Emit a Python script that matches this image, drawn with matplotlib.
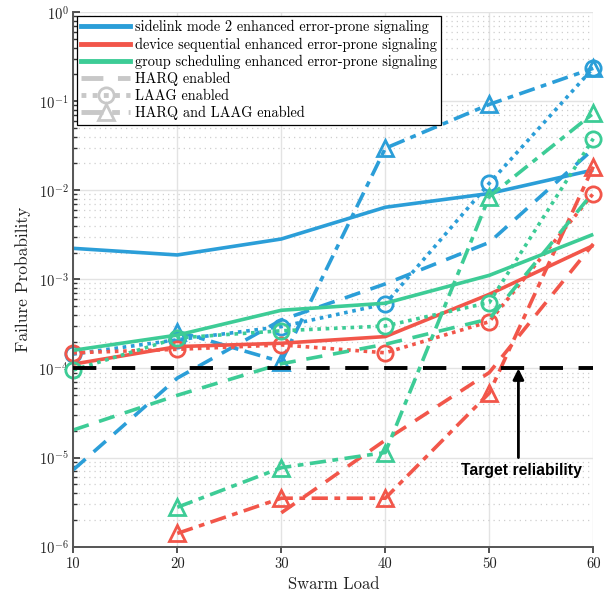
import numpy as np
import matplotlib
matplotlib.use("Agg")
import matplotlib.pyplot as plt
from matplotlib.lines import Line2D
from matplotlib.ticker import FixedLocator, LogLocator, NullFormatter

plt.rcParams['mathtext.fontset'] = 'cm'
plt.rcParams['axes.formatter.use_mathtext'] = True

nan = np.nan
swarm_load = [10, 20, 30, 40, 50, 60]

# sidelink mode 2 enhanced error-prone signaling
sl_base = [2.23e-3, 1.88e-3, 2.84e-3, 6.45e-3, 9.2e-3, 1.69e-2]
sl_harq = [7.3e-6, 7.8e-5, 3.5e-4, 8.9e-4, 2.6e-3, 2.9e-2]
sl_laag = [1.45e-4, 2.1e-4, 2.95e-4, 5.3e-4, 1.2e-2, 0.236]
sl_both = [nan, 2.6e-4, 1.19e-4, 2.96e-2, 9.2e-2, 0.234]

# device sequential enhanced error-prone signaling
ds_base = [1.12e-4, 1.76e-4, 1.92e-4, 2.28e-4, 6.8e-4, 2.4e-3]
ds_harq = [nan, nan, 2.4e-6, 1.57e-5, 9.0e-5, 2.5e-3]
ds_laag = [1.5e-4, 1.64e-4, 1.84e-4, 1.5e-4, 3.35e-4, 9.2e-3]
ds_both = [nan, 1.41e-6, 3.5e-6, 3.5e-6, 5.3e-5, 1.84e-2]

# group scheduling enhanced error-prone signaling
gs_base = [1.6e-4, 2.37e-4, 4.5e-4, 5.4e-4, 1.11e-3, 3.2e-3]
gs_harq = [2.04e-5, 5.0e-5, 1.13e-4, 1.87e-4, 3.6e-4, 9.5e-3]
gs_laag = [9.6e-5, 2.2e-4, 2.65e-4, 3.0e-4, 5.5e-4, 3.8e-2]
gs_both = [nan, 2.77e-6, 7.7e-6, 1.14e-5, 8.5e-3, 7.3e-2]

target_x = [10, 60]
target_y = [1e-4, 1e-4]

series_names = ['sidelink mode 2 enhanced error-prone signaling',
                'device sequential enhanced error-prone signaling',
                'group scheduling enhanced error-prone signaling']
style_names = ['HARQ enabled', 'LAAG enabled', 'HARQ and LAAG enabled']
x_ticks = [10, 20, 30, 40, 50, 60]
y_ticks = [1e-6, 1e-5, 1e-4, 1e-3, 1e-2, 1e-1, 1e0]
y_tick_labels = [r'$10^{-6}$', r'$10^{-5}$', r'$10^{-4}$', r'$10^{-3}$',
                 r'$10^{-2}$', r'$10^{-1}$', r'$10^{0}$']

colors = ['#2B9ED8', '#F2564A', '#3DCC96']
gray = '#C8C8C8'
LW = 2.6
MS = 11
MEW = 2.0
DASH = (0, (4.5, 3))
DOT = (0, (1.0, 1.3))
DASHDOT = (0, (4.5, 1.8, 1.6, 1.8))

fig = plt.figure(figsize=(6.11, 5.95), dpi=100)
ax = fig.add_axes([0.12, 0.0812, 0.851, 0.8985])

groups = [(sl_base, sl_harq, sl_laag, sl_both),
          (ds_base, ds_harq, ds_laag, ds_both),
          (gs_base, gs_harq, gs_laag, gs_both)]

for c, (b, h, l, bo) in zip(colors, groups):
    ax.plot(swarm_load, b, color=c, lw=LW, ls='-', solid_capstyle='butt', clip_on=False)
    ax.plot(swarm_load, h, color=c, lw=LW, ls=DASH, clip_on=False)
    ax.plot(swarm_load, l, color=c, lw=LW, ls=DOT, marker='o', ms=MS,
            mfc='none', mec=c, mew=MEW, clip_on=False)
    ax.plot(swarm_load, bo, color=c, lw=LW, ls=DASHDOT, marker='^', ms=MS,
            mfc='none', mec=c, mew=MEW, clip_on=False)

ax.plot(target_x, target_y, color='black', lw=2.8, ls=(0, (6, 4)), zorder=5)

ax.annotate('', xy=(52.8, 1.0e-4), xytext=(52.8, 1.0e-5),
            arrowprops=dict(arrowstyle='-|>', color='black', lw=2.0,
                            mutation_scale=16, shrinkA=0, shrinkB=0), zorder=6)
ax.text(53.1, 7.1e-6, 'Target reliability', ha='center', va='center',
        fontsize=11.3, fontweight='bold', family='Liberation Sans', zorder=6)

ax.set_yscale('log')
ax.set_xlim(10, 60)
ax.set_ylim(1e-6, 1)
ax.xaxis.set_major_locator(FixedLocator(x_ticks))
ax.set_xticklabels([str(t) for t in x_ticks], family='cmr10', fontsize=10.5)
ax.yaxis.set_major_locator(FixedLocator(y_ticks))
ax.set_yticklabels(y_tick_labels, fontsize=10.5)
ax.yaxis.set_minor_locator(LogLocator(base=10, subs=np.arange(2, 10), numticks=20))
ax.yaxis.set_minor_formatter(NullFormatter())

ax.grid(True, which='major', color='#E3E3E3', lw=1.0, ls='-')
ax.grid(True, which='minor', axis='y', color='#CFCFCF', lw=0.9, ls=(0, (1, 3.2)))
ax.set_axisbelow(True)

for s in ['top', 'right']:
    ax.spines[s].set_visible(False)
for s in ['left', 'bottom']:
    ax.spines[s].set_color('#555555')
    ax.spines[s].set_linewidth(1.4)
ax.tick_params(axis='y', which='major', direction='in', length=5, width=1.2, color='#333333')
ax.tick_params(axis='y', which='minor', direction='in', length=3, width=1.0, color='#333333')
ax.tick_params(axis='x', which='major', direction='out', length=4, width=1.2, color='#333333')
ax.tick_params(labelcolor='#222222')

ax.set_xlabel('Swarm Load', family='cmr10', fontsize=12, color='#222222', labelpad=4)
ax.set_ylabel('Failure Probability', family='cmr10', fontsize=12.5, color='#222222', labelpad=5)

handles = [Line2D([], [], color=c, lw=3.5) for c in colors]
handles += [Line2D([], [], color=gray, lw=3.5, ls=DASH),
            Line2D([], [], color=gray, lw=3.5, ls=DOT, marker='o', ms=MS, mfc='none', mec=gray, mew=MEW),
            Line2D([], [], color=gray, lw=3.5, ls=DASHDOT, marker='^', ms=MS, mfc='none', mec=gray, mew=MEW)]
leg = ax.legend(handles, series_names + style_names, loc='upper left',
                bbox_to_anchor=(0.0, 1.0), prop={'family': 'cmr10', 'size': 10.3},
                frameon=True, fancybox=False, edgecolor='black', framealpha=1,
                borderpad=0.3, labelspacing=0.22, handlelength=3.4, handletextpad=0.35,
                borderaxespad=0.25)
leg.get_frame().set_linewidth(0.9)
leg.set_zorder(10)

fig.savefig('out.png', dpi=100)
